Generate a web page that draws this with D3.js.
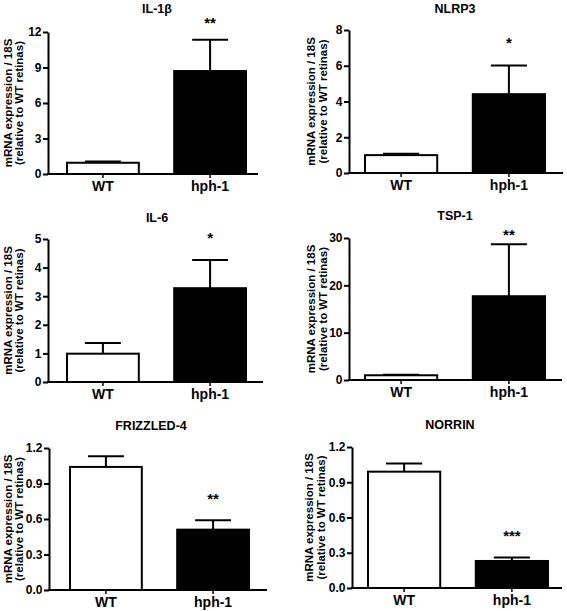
<!DOCTYPE html>
<html><head><meta charset="utf-8">
<script src="https://cdn.jsdelivr.net/npm/d3@7"></script>
<style>body{margin:0;background:#fff}svg{display:block}text{font-family:"Liberation Sans",Arial,sans-serif;font-weight:bold;fill:#000}</style>
</head><body>
<script>
const genes = ["IL-1β", "NLRP3", "IL-6", "TSP-1", "FRIZZLED-4", "NORRIN"];
const groups = ["WT", "hph-1"];
const meanValues = [[0.95, 8.7], [1.0, 4.41], [0.99, 3.28], [1.0, 17.7], [1.04, 0.51], [0.99, 0.23]];
const semValues = [[0.1, 2.65], [0.08, 1.61], [0.37, 0.99], [0.1, 11.0], [0.09, 0.08], [0.07, 0.03]];
const yMax = [12, 8, 5, 30, 1.2, 1.2];
const yTicks = [[0, 3, 6, 9, 12], [0, 2, 4, 6, 8], [0, 1, 2, 3, 4, 5], [0, 10, 20, 30], [0, 0.3, 0.6, 0.9, 1.2], [0, 0.3, 0.6, 0.9, 1.2]];
const tickFormats = ["d", "d", "d", "d", ".1f", ".1f"];
const significance = ["**", "*", "*", "**", "**", "***"];
const yLabelLines = ["mRNA expression / 18S", "(relative to WT retinas)"];

// layout (pixels)
const layout = [
  {ax: 48, xEnd: 258, y0: 174, yTop: 32, b0: 67, b1: 246, titleX: 157, titleY: 13, starY: 28, labX: 7.5},
  {ax: 349, xEnd: 563, y0: 173, yTop: 30, b0: 365, b1: 545, titleX: 455, titleY: 13, starY: 48, labX: 311},
  {ax: 48, xEnd: 263, y0: 382, yTop: 239, b0: 67, b1: 246, titleX: 157, titleY: 222, starY: 243, labX: 7.5},
  {ax: 349, xEnd: 562, y0: 380, yTop: 238, b0: 365, b1: 545, titleX: 455, titleY: 220, starY: 240, labX: 311},
  {ax: 49, xEnd: 267, y0: 590, yTop: 448, b0: 70, b1: 249, titleX: 151, titleY: 430, starY: 504, labX: 7.5},
  {ax: 352, xEnd: 562, y0: 588, yTop: 447, b0: 368, b1: 548, titleX: 450, titleY: 429, starY: 541, labX: 309}
];

const svg = d3.select("body").append("svg").attr("width", 567).attr("height", 611);

genes.forEach((gene, i) => {
  const L = layout[i];
  const g = svg.append("g");
  const y = d3.scaleLinear().domain([0, yMax[i]]).range([L.y0, L.yTop]);
  const x = d3.scaleBand().domain(groups).range([L.b0, L.b1]).paddingInner(0.33).paddingOuter(0);
  const bw = x.bandwidth();

  groups.forEach((grp, j) => {
    const m = meanValues[i][j], s = semValues[i][j];
    const cx = x(grp) + bw / 2;
    g.append("line").attr("x1", cx).attr("x2", cx).attr("y1", y(m)).attr("y2", y(m + s))
      .attr("stroke", "#000").attr("stroke-width", 2);
    g.append("line").attr("x1", cx - bw / 4).attr("x2", cx + bw / 4).attr("y1", y(m + s)).attr("y2", y(m + s))
      .attr("stroke", "#000").attr("stroke-width", 2);
    g.append("rect").attr("x", x(grp)).attr("width", bw)
      .attr("y", y(m)).attr("height", L.y0 - y(m))
      .attr("fill", j === 0 ? "#fff" : "#000").attr("stroke", "#000").attr("stroke-width", 2);
  });

  // y axis
  const yAxis = d3.axisLeft(y).tickValues(yTicks[i]).tickFormat(d3.format(tickFormats[i])).tickSize(5).tickSizeOuter(0).tickPadding(1.5);
  const ya = g.append("g").attr("transform", `translate(${L.ax},0)`).call(yAxis);
  ya.select(".domain").attr("stroke-width", 2);
  ya.selectAll(".tick line").attr("stroke-width", 2);
  ya.selectAll(".tick text").style("font-size", "12px").attr("fill", "#000");
  // x axis
  g.append("line").attr("x1", L.ax - 1).attr("x2", L.xEnd).attr("y1", L.y0).attr("y2", L.y0)
    .attr("stroke", "#000").attr("stroke-width", 2);
  groups.forEach(grp => {
    const cx = x(grp) + bw / 2;
    g.append("line").attr("x1", cx).attr("x2", cx).attr("y1", L.y0).attr("y2", L.y0 + 4)
      .attr("stroke", "#000").attr("stroke-width", 1.5);
    g.append("text").attr("x", cx).attr("y", L.y0 + 17).attr("text-anchor", "middle")
      .style("font-size", "14px").text(grp);
  });

  g.append("text").attr("x", L.titleX).attr("y", L.titleY).attr("text-anchor", "middle")
    .style("font-size", "12.5px").text(gene);
  g.append("text").attr("x", x("hph-1") + bw / 2).attr("y", L.starY).attr("text-anchor", "middle")
    .style("font-size", "15px").text(significance[i]);
  const cy = (L.y0 + L.yTop) / 2;
  yLabelLines.forEach((t, k) => {
    g.append("text").attr("transform", `translate(${L.labX + k * 11.5 + 4.3},${cy}) rotate(-90)`)
      .attr("text-anchor", "middle").style("font-size", "11.5px").text(t);
  });
});
</script>
</body></html>
